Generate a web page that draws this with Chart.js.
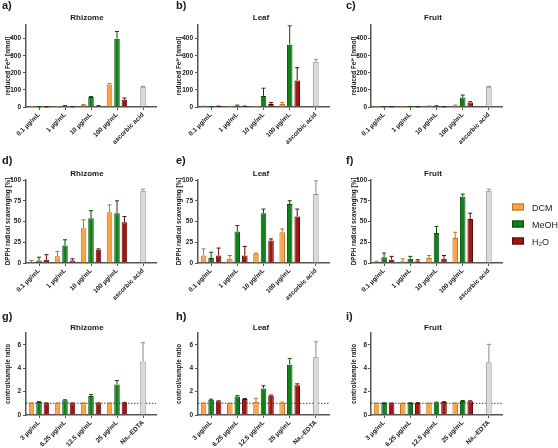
<!DOCTYPE html>
<html lang="en">
<head>
<meta charset="UTF-8">
<title>Antioxidant activity – rhizome, leaf, fruit</title>
<script src="https://cdn.jsdelivr.net/npm/chart.js"></script>
<style>
  body { margin: 0; background: #fff; font-family: "Liberation Sans", Arial, sans-serif; color: #1a1a1a; }
  #fig { position: relative; width: 558px; height: 448px; overflow: hidden; }
  canvas { position: absolute; }
  .letter { position: absolute; font-weight: bold; font-size: 11px; line-height: 11px; }
  .title { position: absolute; font-weight: bold; font-size: 8px; line-height: 8px; transform: translate(-50%, -50%); white-space: nowrap; }
  .leg { position: absolute; left: 512px; font-size: 9px; line-height: 9px; transform: translateY(-50%); white-space: nowrap; }
  .leg span { display: inline-block; width: 10px; height: 5px; border: 1px solid; margin-right: 8px; vertical-align: middle; position: relative; top: -1px; }
</style>
</head>
<body>
<div id="fig"></div>
<script>
// ---- data ----
const tissues = ['Rhizome', 'Leaf', 'Fruit'];
const solvents = ['DCM', 'MeOH', 'H₂O'];

// FRAP: reduced Fe2+ [nmol]
const frapLabels = ['0.1 µg/mL', '1 µg/mL', '10 µg/mL', '100 µg/mL', 'ascorbic acid'];
const frapRhizome = [[0.5, 1, 12, 132], [1, 5, 58, 400], [0.5, 1, 5, 42]];
const frapRhizomeSD = [[0.3, 0.5, 3, 5], [0.5, 3, 3, 42], [0.3, 0.5, 3, 10]];
const frapLeaf = [[3, 2, 2, 18], [2, 7, 65, 365], [3, 3, 18, 155]];
const frapLeafSD = [[2, 2, 1, 8], [1, 4, 45, 110], [2, 2, 8, 75]];
const frapFruit = [[1, 1, 4, 8], [1, 2, 5, 55], [1, 1, 1, 27]];
const frapFruitSD = [[0.5, 0.5, 2, 3], [0.5, 1, 2, 15], [0.5, 0.5, 0.5, 4]];
const frapCtrl = [118, 265, 118];
const frapCtrlSD = [3, 12, 3];

// DPPH radical scavenging [%]
const dpphLabels = ['0.1 µg/mL', '1 µg/mL', '10 µg/mL', '100 µg/mL', 'ascorbic acid'];
const dpphRhizome = [[1, 8, 42, 61], [3, 21, 54, 60], [4, 3, 16, 49]];
const dpphRhizomeSD = [[2, 6, 10, 9], [4, 7, 9, 15], [6, 2, 1, 7]];
const dpphLeaf = [[9, 5, 11, 37], [6, 38, 60, 71], [9, 9, 27, 56]];
const dpphLeafSD = [[8, 4, 1, 4], [7, 7, 5, 4], [9, 11, 2, 9]];
const dpphFruit = [[1, 2, 6, 30], [7, 5, 36, 80], [4, 2, 5, 53]];
const dpphFruitSD = [[1, 3, 3, 7], [5, 3, 8, 3], [4, 2, 4, 7]];
const dpphCtrl = [87, 83, 87];
const dpphCtrlSD = [2, 16, 2];

// Fe2+ chelating: control/sample ratio
const chelLabels = ['3 µg/mL', '6.25 µg/mL', '12.5 µg/mL', '25 µg/mL', 'Na₂-EDTA'];
const chelRhizome = [[1.0, 1.0, 1.0, 1.0], [1.1, 1.25, 1.63, 2.6], [1.0, 1.0, 1.0, 1.05]];
const chelRhizomeSD = [[0.03, 0.03, 0.03, 0.03], [0.04, 0.05, 0.11, 0.34], [0.03, 0.03, 0.03, 0.03]];
const chelLeaf = [[1.0, 1.0, 1.1, 1.05], [1.3, 1.57, 2.27, 4.3], [1.17, 1.36, 1.65, 2.53]];
const chelLeafSD = [[0.02, 0.02, 0.32, 0.05], [0.05, 0.08, 0.23, 0.53], [0.04, 0.04, 0.05, 0.13]];
const chelFruit = [[1.0, 1.0, 1.0, 1.0], [1.02, 1.03, 1.07, 1.19], [1.0, 1.03, 1.1, 1.18]];
const chelFruitSD = [[0.02, 0.02, 0.02, 0.02], [0.02, 0.02, 0.03, 0.04], [0.02, 0.02, 0.03, 0.03]];
const chelCtrl = [4.57, 4.97, 4.5];
const chelCtrlSD = [1.6, 1.28, 1.53];
const chelRefLine = 1;

// ---- styling ----
const fills = ['#F9A447', '#10801A', '#A51414'];
const edges = ['#B8731F', '#0A4A0C', '#5A0808'];
const ctrlFill = '#DADADA', ctrlEdge = '#8A8A8A';
const axisCol = '#555';
const txtCol = '#1a1a1a';
const fontFam = '"Liberation Sans", Arial, sans-serif';

const cols = [
  { cx: 3, left: 26, right: 156, titleX: 87, tickPad: 2 },
  { cx: 174, left: 198, right: 329, titleX: 261, tickPad: 2 },
  { cx: 349, left: 371, right: 502, titleX: 433, tickPad: 1 }
];
const rows = [
  { top: 25, bottom: 107.5, titleY: 17.5, letterY: 0, yTitle: 'reduced Fe²⁺ [nmol]', max: 480, step: 100,
    labels: frapLabels, mean: [frapRhizome, frapLeaf, frapFruit], sd: [frapRhizomeSD, frapLeafSD, frapFruitSD],
    ctrl: frapCtrl, ctrlSD: frapCtrlSD },
  { top: 179.5, bottom: 262.7, titleY: 174, letterY: 155, yTitle: 'DPPH radical scavenging [%]', max: 100, step: 25,
    labels: dpphLabels, mean: [dpphRhizome, dpphLeaf, dpphFruit], sd: [dpphRhizomeSD, dpphLeafSD, dpphFruitSD],
    ctrl: dpphCtrl, ctrlSD: dpphCtrlSD },
  { top: 333, bottom: 415, titleY: 327.5, letterY: 311, yTitle: 'control/sample ratio', max: 7, step: 2,
    labels: chelLabels, mean: [chelRhizome, chelLeaf, chelFruit], sd: [chelRhizomeSD, chelLeafSD, chelFruitSD],
    ctrl: chelCtrl, ctrlSD: chelCtrlSD, refLine: chelRefLine }
];
const letters = [['a)', 'b)', 'c)'], ['d)', 'e)', 'f)'], ['g)', 'h)', 'i)']];
const letterX = [2, 176, 346];

// error bars (upward only, with cap)
const errorBars = {
  id: 'errorBars',
  afterDatasetsDraw(chart) {
    const ctx = chart.ctx, ys = chart.scales.y;
    chart.data.datasets.forEach((ds, i) => {
      chart.getDatasetMeta(i).data.forEach((bar, j) => {
        const v = ds.data[j], e = ds.sd[j];
        if (v == null || e == null) return;
        const yTop = ys.getPixelForValue(v + e);
        ctx.save();
        ctx.strokeStyle = ds.borderColor;
        ctx.lineWidth = 1;
        ctx.beginPath();
        ctx.moveTo(bar.x, bar.y);
        ctx.lineTo(bar.x, yTop);
        ctx.moveTo(bar.x - 2, yTop);
        ctx.lineTo(bar.x + 2, yTop);
        ctx.stroke();
        ctx.restore();
      });
    });
  }
};

// dotted reference line (row 3)
const refLine = {
  id: 'refLine',
  beforeDatasetsDraw(chart, args, opts) {
    if (opts.value == null) return;
    const { ctx, chartArea } = chart;
    const y = chart.scales.y.getPixelForValue(opts.value);
    ctx.save();
    ctx.strokeStyle = '#444';
    ctx.lineWidth = 1;
    ctx.setLineDash([1.5, 1.5]);
    ctx.beginPath();
    ctx.moveTo(chartArea.left, y);
    ctx.lineTo(chartArea.right, y);
    ctx.stroke();
    ctx.restore();
  }
};

const fig = document.getElementById('fig');

function addText(cls, text, x, y) {
  const d = document.createElement('div');
  d.className = cls;
  d.textContent = text;
  d.style.left = x + 'px';
  d.style.top = y + 'px';
  fig.appendChild(d);
}

rows.forEach((r, ri) => {
  cols.forEach((c, ci) => {
    const cy = r.top - 8;
    const w = c.right + 6 - c.cx;
    const h = Math.min(r.bottom + 40, 448) - cy;
    const cv = document.createElement('canvas');
    cv.width = w; cv.height = h;
    cv.style.left = c.cx + 'px';
    cv.style.top = cy + 'px';
    fig.appendChild(cv);

    const mean = r.mean[ci], sd = r.sd[ci];
    const datasets = solvents.map((s, k) => ({
      label: s,
      data: [...mean[k], null],
      sd: [...sd[k], null],
      backgroundColor: fills[k],
      borderColor: edges[k],
      borderWidth: 1
    }));
    datasets.push({
      label: 'control',
      data: [null, null, null, null, r.ctrl[ci]],
      sd: [null, null, null, null, r.ctrlSD[ci]],
      backgroundColor: ctrlFill,
      borderColor: ctrlEdge,
      borderWidth: 1,
      grouped: false,
      maxBarThickness: 5.5
    });

    const yW = c.left - c.cx;
    const xH = cy + h - r.bottom;
    new Chart(cv, {
      type: 'bar',
      data: { labels: r.labels, datasets },
      options: {
        responsive: false,
        animation: false,
        devicePixelRatio: 1,
        categoryPercentage: 0.86,
        barPercentage: 0.74,
        layout: { padding: { top: r.top - cy, right: 6, left: 0, bottom: 0 } },
        plugins: {
          legend: { display: false },
          tooltip: { enabled: false },
          refLine: { value: r.refLine }
        },
        scales: {
          x: {
            offset: true,
            grid: { offset: false, drawOnChartArea: false, tickLength: 3, color: axisCol },
            border: { color: axisCol, width: 1.5 },
            ticks: { autoSkip: false, minRotation: 45, maxRotation: 45, padding: 1, color: txtCol,
                     font: { family: fontFam, size: 6.5, weight: 'bold' } },
            afterFit: s => { s.height = xH; }
          },
          y: {
            min: 0, max: r.max,
            ticks: { stepSize: r.step, includeBounds: false, padding: c.tickPad, color: txtCol,
                     font: { family: fontFam, size: 6.5, weight: 'bold' } },
            grid: { drawOnChartArea: false, tickLength: 3, color: axisCol },
            border: { color: axisCol, width: 1.5 },
            title: { display: true, text: r.yTitle, color: txtCol, padding: { top: 1, bottom: 0 },
                     font: { family: fontFam, size: 6.3, weight: 'bold' } },
            afterFit: s => { s.width = yW; }
          }
        }
      },
      plugins: [errorBars, refLine]
    });

    addText('title', tissues[ci], c.titleX, r.titleY);
    addText('letter', letters[ri][ci], letterX[ci], r.letterY);
  });
});

// legend
[208, 225, 242].forEach((y, k) => {
  const d = document.createElement('div');
  d.className = 'leg';
  d.style.top = y + 'px';
  const sw = document.createElement('span');
  sw.style.background = fills[k];
  sw.style.borderColor = edges[k];
  d.appendChild(sw);
  d.appendChild(document.createTextNode(solvents[k]));
  fig.appendChild(d);
});
</script>
</body>
</html>
